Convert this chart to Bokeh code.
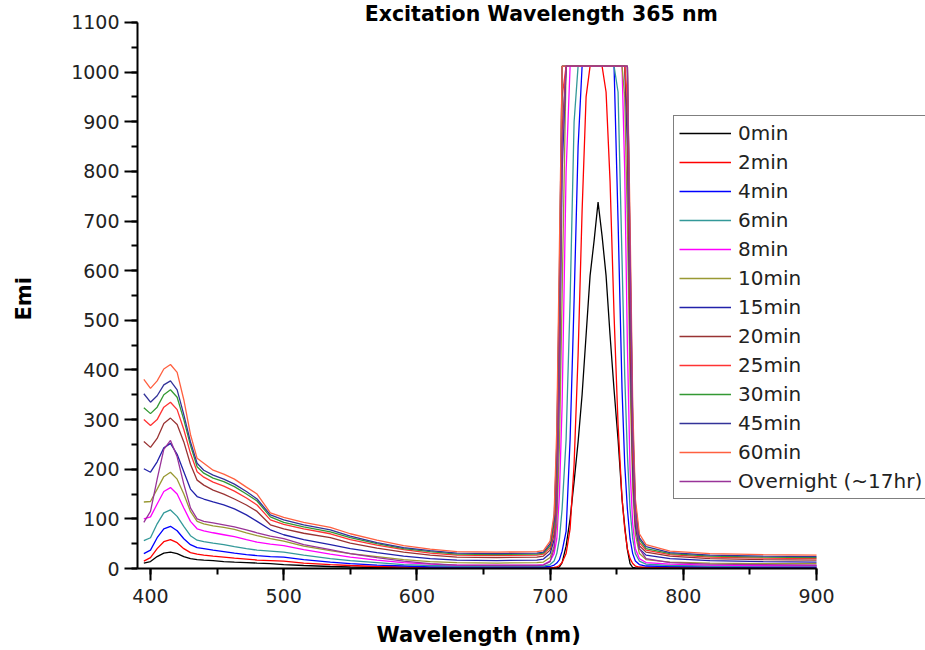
from bokeh.plotting import figure
from bokeh.models import Range1d, SingleIntervalTicker, Legend, LegendItem, Label, Title
from bokeh.embed import file_html
from bokeh.resources import INLINE

# Wavelength grid (nm)
wavelength = [395, 400, 405, 410, 415, 420, 425, 430, 435, 440,
              447, 455, 463, 472, 480, 490, 500,
              515, 535, 550, 570, 590, 610, 630, 660, 690,
              695, 700, 703, 705, 707, 709,
              712, 715, 718, 721, 724, 727, 730, 733, 736, 739,
              742, 745, 748, 751, 754, 756, 758, 760, 762, 764,
              767, 772, 790, 820, 860, 900]

em_0min = [11, 14, 24, 31, 33, 30, 24, 20, 18, 17,
           16, 14, 13, 12, 11, 10, 8,
           6, 4, 3, 2, 1, 1, 0, 0, 0,
           0, 0, 0, 1, 3, 12,
           45, 100, 175, 255, 350, 470, 590, 660, 738, 670,
           590, 470, 360, 260, 140, 85, 38, 10, 2, 1,
           0, 0, 0, 0, 0, 0]
em_2min = [15, 22, 40, 54, 58, 52, 40, 32, 29, 27,
           25, 23, 21, 19, 17, 16, 15,
           11, 8, 6, 4, 3, 2, 1, 1, 1,
           1, 1, 2, 3, 6, 12,
           30, 80, 210, 430, 720, 950, 1012, 1012, 1012, 1012,
           960, 780, 510, 290, 140, 80, 40, 20, 10, 5,
           3, 2, 2, 2, 1, 1]
em_4min = [30, 37, 62, 80, 85, 76, 60, 48, 42, 40,
           37, 34, 31, 28, 26, 24, 23,
           18, 13, 10, 7, 5, 3, 3, 3, 3,
           3, 4, 7, 11, 18, 35,
           75, 260, 540, 850, 1012, 1012, 1012, 1012, 1012, 1012,
           1012, 1012, 1012, 700, 360, 210, 120, 60, 30, 15,
           8, 5, 4, 3, 3, 3]
em_6min = [56, 62, 90, 112, 118, 105, 85, 66, 57, 54,
           51, 48, 44, 40, 37, 35, 33,
           27, 20, 16, 12, 8, 6, 5, 5, 5,
           5, 8, 15, 30, 60, 120,
           260, 540, 900, 1012, 1012, 1012, 1012, 1012, 1012, 1012,
           1012, 1012, 1012, 960, 620, 390, 230, 120, 60, 30,
           15, 9, 6, 5, 5, 5]
em_8min = [100, 104, 130, 155, 163, 150, 122, 95, 80, 76,
           72, 68, 64, 58, 53, 49, 46,
           38, 29, 23, 17, 12, 9, 7, 7, 7,
           8, 15, 30, 60, 150, 330,
           800, 1012, 1012, 1012, 1012, 1012, 1012, 1012, 1012, 1012,
           1012, 1012, 1012, 1012, 1012, 800, 450, 200, 90, 40,
           20, 12, 9, 7, 6, 6]
em_10min = [134, 135, 160, 185, 194, 180, 150, 115, 95, 90,
            86, 83, 79, 72, 66, 60, 55,
            45, 36, 30, 24, 18, 14, 12, 11, 12,
            13, 22, 45, 90, 250, 550,
            1012, 1012, 1012, 1012, 1012, 1012, 1012, 1012, 1012, 1012,
            1012, 1012, 1012, 1012, 1012, 950, 700, 380, 160, 70,
            30, 18, 13, 11, 10, 10]
em_15min = [201, 194, 215, 243, 252, 230, 195, 160, 145, 140,
            134, 128, 120, 108, 95, 78, 68,
            58, 48, 40, 32, 25, 20, 17, 16, 17,
            19, 30, 58, 140, 380, 800,
            1012, 1012, 1012, 1012, 1012, 1012, 1012, 1012, 1012, 1012,
            1012, 1012, 1012, 1012, 1012, 1012, 850, 470, 200, 85,
            40, 27, 20, 16, 14, 13]
em_20min = [256, 244, 262, 292, 303, 290, 255, 210, 178, 168,
            158, 150, 140, 128, 115, 88, 80,
            71, 62, 51, 41, 33, 27, 23, 22, 23,
            25, 37, 70, 170, 440, 880,
            1012, 1012, 1012, 1012, 1012, 1012, 1012, 1012, 1012, 1012,
            1012, 1012, 1012, 1012, 1012, 1012, 900, 520, 220, 95,
            46, 33, 25, 20, 18, 17]
em_25min = [300, 288, 300, 325, 335, 320, 280, 232, 195, 184,
            174, 166, 156, 142, 128, 98, 89,
            80, 70, 58, 47, 38, 31, 27, 26, 27,
            29, 42, 80, 200, 500, 950,
            1012, 1012, 1012, 1012, 1012, 1012, 1012, 1012, 1012, 1012,
            1012, 1012, 1012, 1012, 1012, 1012, 950, 580, 250, 110,
            52, 37, 28, 23, 21, 20]
em_30min = [324, 312, 325, 350, 360, 345, 300, 248, 205, 192,
            182, 175, 165, 150, 136, 104, 93,
            84, 74, 62, 50, 40, 34, 29, 28, 29,
            31, 46, 90, 230, 560, 1012,
            1012, 1012, 1012, 1012, 1012, 1012, 1012, 1012, 1012, 1012,
            1012, 1012, 1012, 1012, 1012, 1012, 1012, 620, 280, 120,
            58, 40, 30, 25, 23, 22]
em_45min = [352, 335, 348, 370, 378, 360, 310, 255, 212, 198,
            188, 180, 170, 155, 140, 108, 98,
            88, 78, 65, 52, 42, 36, 31, 30, 31,
            33, 50, 100, 250, 600, 1012,
            1012, 1012, 1012, 1012, 1012, 1012, 1012, 1012, 1012, 1012,
            1012, 1012, 1012, 1012, 1012, 1012, 1012, 650, 300, 130,
            62, 44, 32, 27, 25, 24]
em_60min = [381, 363, 378, 402, 411, 395, 340, 270, 222, 212,
            198, 190, 180, 164, 150, 112, 103,
            93, 83, 70, 57, 46, 39, 34, 33, 34,
            36, 55, 110, 280, 650, 1012,
            1012, 1012, 1012, 1012, 1012, 1012, 1012, 1012, 1012, 1012,
            1012, 1012, 1012, 1012, 1012, 1012, 1012, 700, 330, 140,
            70, 48, 35, 30, 28, 27]
em_overnight = [93, 115, 180, 240, 258, 225, 170, 122, 100, 95,
                92, 88, 84, 78, 72, 65, 60,
                48, 38, 30, 22, 15, 10, 7, 6, 6,
                7, 14, 40, 120, 400, 850,
                1012, 1012, 1012, 1012, 1012, 1012, 1012, 1012, 1012, 1012,
                1012, 1012, 1012, 1012, 1012, 1012, 1012, 640, 280, 110,
                40, 20, 12, 9, 8, 7]

series_names = ["0min", "2min", "4min", "6min", "8min", "10min", "15min",
                "20min", "25min", "30min", "45min", "60min", "Overnight (~17hr)"]
series_values = [em_0min, em_2min, em_4min, em_6min, em_8min, em_10min, em_15min,
                 em_20min, em_25min, em_30min, em_45min, em_60min, em_overnight]
series_colors = ["#000000", "#ff0000", "#0000ff", "#339999", "#ff00ff", "#999933",
                 "#2222aa", "#993333", "#ff3333", "#339933", "#333399", "#ff6040",
                 "#993399"]

x_axis_min, x_axis_max = 390.24, 900
y_axis_min, y_axis_max = 0, 1100

for s in series_values:
    assert len(s) == len(wavelength), len(s)

# frame spans to the right and top edges of the canvas so that the legend and
# title are not clipped; the axes themselves are bounded to the data extent
p = figure(width=925, height=650, output_backend="svg", toolbar_location=None,
           title=None,
           x_range=Range1d(x_axis_min, 981.8), y_range=Range1d(y_axis_min, 1144.3),
           min_border_left=137, min_border_right=0,
           min_border_top=0, min_border_bottom=82)

p.xgrid.visible = False
p.ygrid.visible = False
p.outline_line_color = None
p.background_fill_color = "white"
p.border_fill_color = "white"

p.xaxis.ticker = SingleIntervalTicker(interval=100, num_minor_ticks=2)
p.yaxis.ticker = SingleIntervalTicker(interval=100, num_minor_ticks=2)
p.xaxis.bounds = (x_axis_min, x_axis_max)
p.yaxis.bounds = (y_axis_min, y_axis_max)

for ax in (p.xaxis[0], p.yaxis[0]):
    ax.axis_line_width = 2
    ax.axis_line_color = "black"
    ax.major_tick_line_width = 2
    ax.minor_tick_line_width = 2
    ax.major_tick_line_color = "black"
    ax.minor_tick_line_color = "black"
    ax.major_tick_in = 0
    ax.minor_tick_in = 0
    ax.minor_tick_out = 6
    ax.major_label_text_font = "DejaVu Sans"
    ax.major_label_text_font_size = "19px"
    ax.major_label_text_color = "#222222"

p.xaxis.major_tick_out = 12
p.yaxis.major_tick_out = 13
p.xaxis.major_label_standoff = 8
p.yaxis.major_label_standoff = 5

xlabel = Title(text="\u00a0\nWavelength (nm)", align="left", offset=239, standoff=4,
               text_line_height=0.6,
               text_font="DejaVu Sans", text_font_style="bold",
               text_font_size="21px", text_color="black")
p.add_layout(xlabel, "below")
ylabel = Title(text="Emi\n\u00a0", align="left", offset=248, standoff=18,
               text_font="DejaVu Sans", text_font_style="bold",
               text_font_size="21px", text_color="black")
p.add_layout(ylabel, "left")

items = []
for name, ys, col in zip(series_names, series_values, series_colors):
    r = p.line(wavelength, ys, line_color=col, line_width=1.3)
    items.append(LegendItem(label=name, renderers=[r]))

legend = Legend(items=items, location=(536, 69),
                label_text_font="DejaVu Sans", label_text_font_size="20px",
                label_text_color="#222222",
                glyph_width=52, glyph_height=20, label_height=20,
                spacing=5, padding=5, margin=0, label_standoff=7,
                border_line_color="black", border_line_width=1.5,
                background_fill_color="white", background_fill_alpha=1.0)
p.add_layout(legend)

title = Label(x=693.4, y=1118, text="Excitation Wavelength 365 nm",
              text_align="center", text_baseline="alphabetic",
              text_font="DejaVu Sans", text_font_style="bold",
              text_font_size="20.5px", text_color="black")
p.add_layout(title)

open("out.html", "w").write(file_html(p, INLINE))
